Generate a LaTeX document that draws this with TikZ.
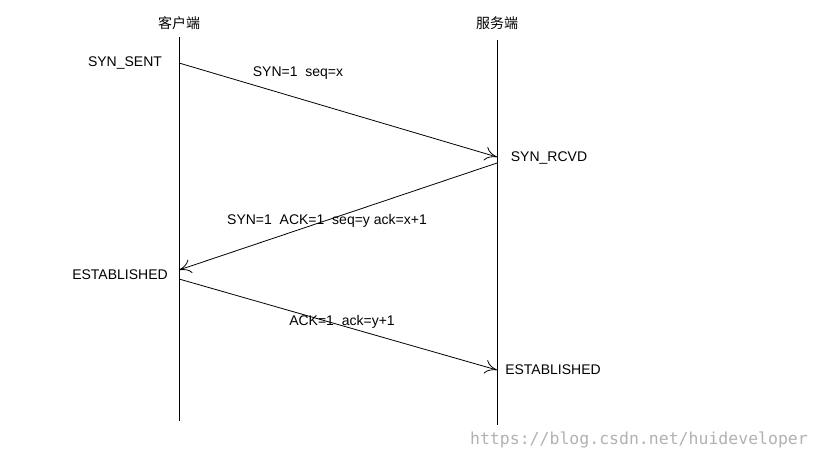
\documentclass[tikz,border=0pt]{standalone}
\usepackage{fontspec}
\setmainfont{Liberation Sans}
\newfontfamily\cjk{Noto Sans CJK SC}
\newfontfamily\wm{DejaVu Sans Mono}
\usetikzlibrary{arrows.meta}
\begin{document}
\begin{tikzpicture}[x=1pt,y=-1pt,
  lbl/.style={font=\fontsize{14}{16}\selectfont,inner sep=0pt},
  msg/.style={draw,-{To[length=12pt,width=14pt]},line width=0.8pt},
  life/.style={draw,line width=0.8pt}]
\useasboundingbox[fill=white] (0,0) rectangle (819,460);
\node[lbl,font=\cjk\fontsize{14}{16}\selectfont] (c) at (179,23) {客户端};
\node[lbl,font=\cjk\fontsize{14}{16}\selectfont] (s) at (497,23) {服务端};
\coordinate (ct) at (179,37); \coordinate (cb) at (179,421);
\coordinate (st) at (497,40); \coordinate (sb) at (497,425);
\draw[life] (ct) -- (cb);
\draw[life] (st) -- (sb);
\coordinate (a1) at (179,63); \coordinate (b1) at (497,157);
\coordinate (a2) at (497,163); \coordinate (b2) at (179,270);
\coordinate (a3) at (179,279); \coordinate (b3) at (497,370);
\draw[msg] (a1) -- (b1);
\draw[msg] (a2) -- (b2);
\draw[msg] (a3) -- (b3);
\node[lbl] (l1) at (125,63) {SYN\_SENT};
\node[lbl] (l2) at (549,158) {SYN\_RCVD};
\node[lbl] (l3) at (120,275) {ESTABLISHED};
\node[lbl] (l4) at (553,370) {ESTABLISHED};
\node[lbl] (m1) at (298,73) {SYN=1\ \ seq=x};
\node[lbl] (m2) at (327,221) {SYN=1\ \ ACK=1\ \ seq=y ack=x+1};
\node[lbl] (m3) at (342,322) {ACK=1\ \ ack=y+1};
\node[lbl,font=\wm\fontsize{16.5}{18}\selectfont,text=black!30] (w) at (639,440) {https://blog.csdn.net/huideveloper};
\end{tikzpicture}
\end{document}
